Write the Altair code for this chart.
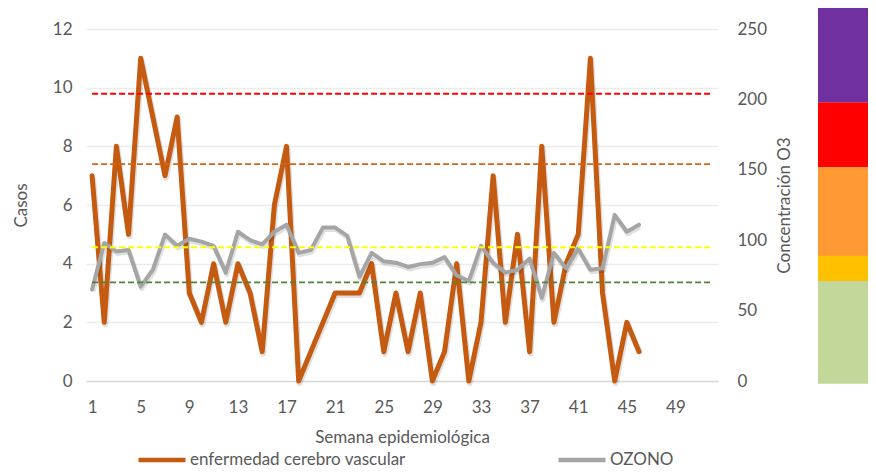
import altair as alt
import pandas as pd

# ---- data ----
weeks = list(range(1, 47))
casos = [7, 2, 8, 5, 11, 9, 7, 9, 3, 2, 4, 2, 4, 3, 1, 6, 8, 0, 1, 2,
         3, 3, 3, 4, 1, 3, 1, 3, 0, 1, 4, 0, 2, 7, 2, 5, 1, 8, 2, 4,
         5, 11, 3, 0, 2, 1]
ozono = [65, 98, 92, 93, 67, 79, 104, 96, 101, 99, 96, 77, 106, 100, 97, 106, 111, 91, 93, 109,
         109, 103, 74, 91, 85, 84, 81, 83, 84, 88, 75, 71, 96, 84, 77, 79, 87, 59, 91, 80,
         94, 79, 80, 118, 106, 111]
x_ticks = [1, 5, 9, 13, 17, 21, 25, 29, 33, 37, 41, 45, 49]

# threshold dashed lines (right axis units)
umbral_val = [70, 95, 154, 204]
umbral_col = ["#548235", "#FFFF00", "#D0661A", "#FF0000"]
umbral_ini = [1, 1, 1, 1]
umbral_fin = [52, 52, 52, 52]

# colour bar bands (right axis units)
banda_ini = [-2, 71, 89, 152, 198]
banda_fin = [71, 98, 152, 198, 266]
banda_col = ["#C4D79B", "#FFC000", "#FF9933", "#FF0000", "#7030A0"]

S1 = "enfermedad cerebro vascular"
S2 = "OZONO"

df_c = pd.DataFrame({"week": weeks, "v": casos, "serie": S1})
df_o = pd.DataFrame({"week": weeks, "v": ozono, "serie": S2})
df_u = pd.DataFrame({"week": umbral_ini, "x2": umbral_fin, "v": umbral_val, "c": umbral_col})
df_b = pd.DataFrame({"y1": banda_ini, "y2": banda_fin, "c": banda_col})

FONT = "Lato"
TXT = "#595959"

x_axis = alt.Axis(values=x_ticks, title="Semana epidemiológica", grid=False,
                  ticks=False, domainColor="#D9D9D9", domainWidth=1.5,
                  labelPadding=18, titlePadding=14)
x_scale = alt.Scale(domain=[0.5, 52.5], nice=False, zero=False)
X = alt.X("week:Q", scale=x_scale, axis=x_axis)

color = alt.Color("serie:N",
                  scale=alt.Scale(domain=[S1, S2], range=["#C55A11", "#A5A5A5"]),
                  legend=alt.Legend(title=None, orient="none", legendX=50, legendY=405,
                                    direction="horizontal", symbolType="stroke",
                                    symbolSize=2200, symbolStrokeWidth=4.5,
                                    labelFont=FONT, labelFontSize=17, labelColor=TXT,
                                    labelLimit=400, labelOffset=2, columnPadding=143,
                                    padding=0))

YL = alt.Y("v:Q", scale=alt.Scale(domain=[0, 12], nice=False),
           axis=alt.Axis(values=[0, 2, 4, 6, 8, 10, 12], title="Casos", orient="left",
                         domain=False, ticks=False, gridColor="#EBEBEB", gridWidth=1.3,
                         labelPadding=14, titlePadding=22))

right_axis = alt.Axis(values=[0, 50, 100, 150, 200, 250], title="Concentración O3",
                      orient="right", domain=False, ticks=False, grid=False,
                      labelPadding=19, titlePadding=27, titleAngle=270)
right_scale = alt.Scale(domain=[0, 250], nice=False)

casos_line = alt.Chart(df_c).mark_line(strokeWidth=5, strokeJoin="round", strokeCap="round").encode(
    x=X, y=YL, color=color)
casos_shadow = alt.Chart(df_c).mark_line(strokeWidth=6, color="#000000", opacity=0.12,
                                         xOffset=1, yOffset=2, strokeJoin="round").encode(
    x=X, y=YL)
left = alt.layer(casos_shadow, casos_line)

bar = alt.Chart(df_b).mark_rect().encode(
    x=alt.value(732), x2=alt.value(782),
    y=alt.Y("y1:Q", scale=right_scale, axis=right_axis), y2="y2:Q",
    fill=alt.Fill("c:N", scale=None))
oz_shadow = alt.Chart(df_o).mark_line(strokeWidth=5, color="#000000", opacity=0.12,
                                      xOffset=1, yOffset=2, strokeJoin="round").encode(
    x=X, y=alt.Y("v:Q", scale=right_scale, axis=right_axis))
oz_line = alt.Chart(df_o).mark_line(strokeWidth=4, strokeJoin="round", strokeCap="round").encode(
    x=X, y=alt.Y("v:Q", scale=right_scale, axis=right_axis), color=color)
rules = alt.Chart(df_u).mark_rule(strokeWidth=1.8, strokeDash=[6, 3]).encode(
    x=X, x2="x2:Q",
    y=alt.Y("v:Q", scale=right_scale, axis=right_axis),
    stroke=alt.Stroke("c:N", scale=None))
right = alt.layer(bar, oz_shadow, oz_line, rules)

chart = alt.layer(left, right).resolve_scale(y="independent").properties(
    width=632, height=352,
    autosize=alt.AutoSizeParams(type="none"),
    padding={"left": 78, "top": 21, "right": 150, "bottom": 87},
    background="#FFFFFF",
).configure_view(stroke=None).configure_axis(
    labelFont=FONT, labelFontSize=17, labelColor=TXT,
    titleFont=FONT, titleFontSize=17, titleColor=TXT, titleFontWeight="normal",
)

chart.save("out.html", embed_options={"renderer": "svg", "actions": False})
